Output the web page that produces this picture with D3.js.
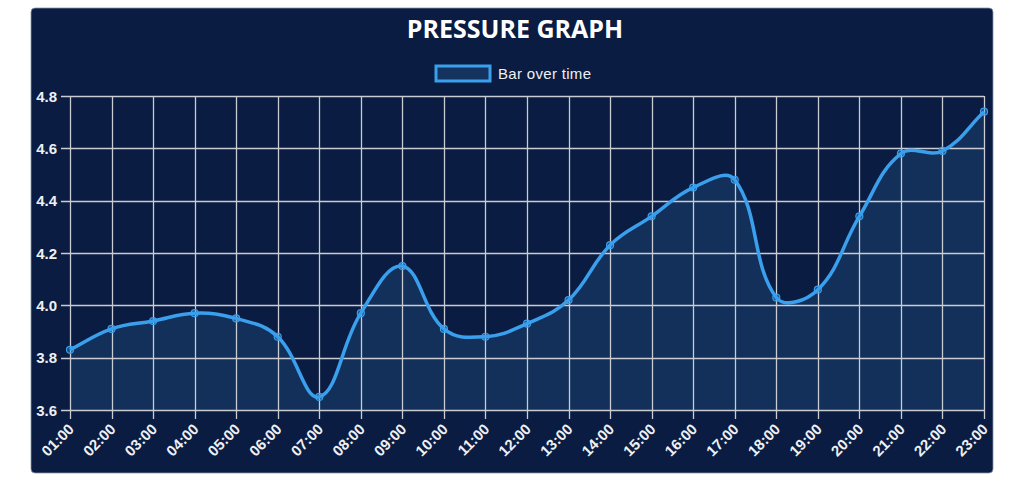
<!DOCTYPE html>
<html>
<head>
<meta charset="utf-8">
<script src="https://cdn.jsdelivr.net/npm/d3@7"></script>
<style>
	html, body { margin: 0; padding: 0; background: #fff; }
	svg { display: block; }
</style>
</head>
<body>
<svg id="chart" width="1024" height="483"></svg>
<script>
// data
const hours = ['01:00', '02:00', '03:00', '04:00', '05:00', '06:00', '07:00', '08:00', '09:00', '10:00', '11:00', '12:00',
	'13:00', '14:00', '15:00', '16:00', '17:00', '18:00', '19:00', '20:00', '21:00', '22:00', '23:00'];
const pressure = [3.83, 3.91, 3.94, 3.97, 3.95, 3.88, 3.65, 3.97, 4.15, 3.91, 3.88, 3.93,
	4.02, 4.23, 4.34, 4.45, 4.48, 4.03, 4.06, 4.34, 4.58, 4.59, 4.74];
const yTicks = [3.6, 3.8, 4.0, 4.2, 4.4, 4.6, 4.8];
const title = 'PRESSURE GRAPH';
const seriesName = 'Bar over time';

const svg = d3.select('#chart');
const plot = { left: 70, right: 984, top: 96, bottom: 410 };

const lineColor = '#3a9fec';
const fillColor = '#14345f';
const gridColor = '#c9ccd3';
const labelFont = '"Liberation Sans", Arial, sans-serif';

// panel
svg.append('rect')
	.attr('x', 31).attr('y', 8)
	.attr('width', 962).attr('height', 465)
	.attr('rx', 4)
	.style('fill', '#0a1c41')
	.style('stroke', '#8a96a8')
	.style('stroke-width', 0.8);

svg.append('text')
	.attr('x', 515).attr('y', 38)
	.attr('text-anchor', 'middle')
	.style('font-family', '"Open Sans", sans-serif')
	.style('font-weight', 'bold')
	.style('font-size', '25px')
	.style('fill', '#fff')
	.text(title);

// legend
const legend = svg.append('g').attr('transform', 'translate(436,66)');
legend.append('rect')
	.attr('width', 54).attr('height', 15)
	.style('fill', fillColor)
	.style('stroke', lineColor)
	.style('stroke-width', 3);
legend.append('text')
	.attr('x', 62).attr('y', 12.5)
	.attr('textLength', 93)
	.style('font-family', labelFont)
	.style('font-size', '15px')
	.style('fill', '#eef0f4')
	.text(seriesName);

const x = d3.scalePoint(hours, [plot.left, plot.right]);
const y = d3.scaleLinear([3.6, 4.8], [plot.bottom, plot.top]);

// grid
const grid = svg.append('g').attr('class', 'grid');
grid.selectAll('line.h').data(yTicks).join('line')
	.attr('class', 'h')
	.attr('x1', plot.left - 9).attr('x2', plot.right)
	.attr('y1', d => Math.round(y(d)) + 0.5).attr('y2', d => Math.round(y(d)) + 0.5)
	.style('stroke', gridColor).style('stroke-width', 1.3);
grid.selectAll('line.v').data(hours).join('line')
	.attr('class', 'v')
	.attr('x1', d => Math.round(x(d)) + 0.5).attr('x2', d => Math.round(x(d)) + 0.5)
	.attr('y1', plot.top).attr('y2', plot.bottom + 9)
	.style('stroke', gridColor).style('stroke-width', 1.3);

// chart.js-style bezier (tension 0.4)
const pts = hours.map((h, i) => [x(h), y(pressure[i])]);
const tension = 0.4;
const cps = pts.map((p, i) => {
	const prev = pts[i - 1] || p, next = pts[i + 1] || p;
	const d01 = Math.hypot(p[0] - prev[0], p[1] - prev[1]);
	const d12 = Math.hypot(next[0] - p[0], next[1] - p[1]);
	let s01 = d01 / (d01 + d12), s12 = d12 / (d01 + d12);
	if (isNaN(s01)) s01 = 0;
	if (isNaN(s12)) s12 = 0;
	const fa = tension * s01, fb = tension * s12;
	return {
		prev: [p[0] - fa * (next[0] - prev[0]), p[1] - fa * (next[1] - prev[1])],
		next: [p[0] + fb * (next[0] - prev[0]), p[1] + fb * (next[1] - prev[1])],
	};
});
function curve(path) {
	path.moveTo(pts[0][0], pts[0][1]);
	for (let i = 1; i < pts.length; i++) {
		const a = cps[i - 1].next, b = cps[i].prev;
		path.bezierCurveTo(a[0], a[1], b[0], b[1], pts[i][0], pts[i][1]);
	}
	return path;
}
const linePath = curve(d3.path()).toString();
const areaPath = linePath + `L${plot.right},${plot.bottom}L${plot.left},${plot.bottom}Z`;

svg.append('path')
	.attr('d', areaPath)
	.style('fill', fillColor)
	.style('fill-opacity', 0.85);

grid.raise();

svg.append('path')
	.attr('d', linePath)
	.style('fill', 'none')
	.style('stroke', lineColor)
	.style('stroke-width', 3.5);

svg.append('g').selectAll('circle').data(pts).join('circle')
	.attr('cx', d => d[0]).attr('cy', d => d[1])
	.attr('r', 3.5)
	.style('fill', 'rgba(58,159,236,0.35)')
	.style('stroke', lineColor)
	.style('stroke-width', 1.2);

// y labels
svg.append('g').selectAll('text').data(yTicks).join('text')
	.attr('x', 57).attr('y', d => y(d) + 5.5)
	.attr('text-anchor', 'end')
	.style('font-family', labelFont)
	.style('font-size', '15px')
	.style('font-weight', 'bold')
	.style('fill', '#eef0f4')
	.text(d => d3.format('.1f')(d));

// x labels, rotated
svg.append('g').selectAll('text').data(hours).join('text')
	.attr('transform', d => `translate(${x(d) + 5},${plot.bottom + 20}) rotate(-45)`)
	.attr('text-anchor', 'end')
	.style('font-family', labelFont)
	.style('font-size', '15px')
	.style('font-weight', 'bold')
	.style('fill', '#eef0f4')
	.text(d => d);
</script>
</body>
</html>
